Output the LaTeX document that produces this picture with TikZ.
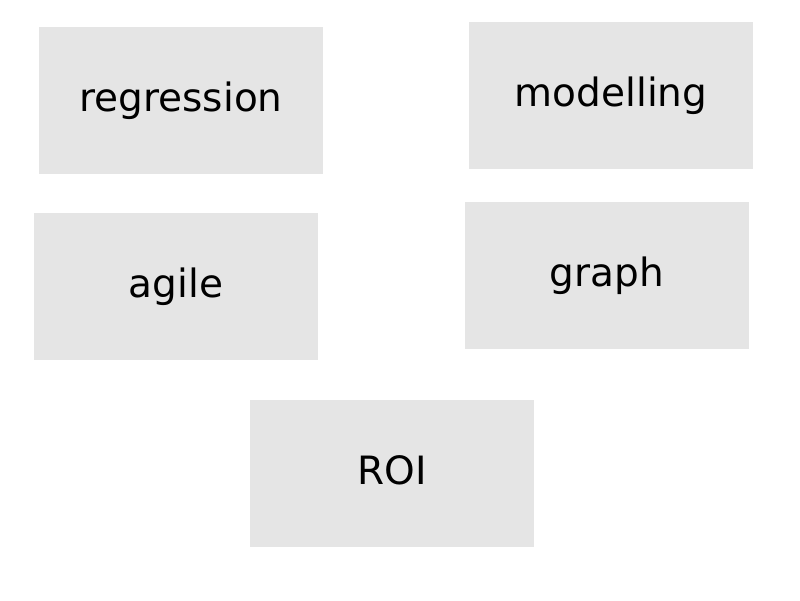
\documentclass[tikz,border=0pt]{standalone}
\usepackage{fontspec}
\setmainfont{DejaVu Sans}
\definecolor{boxgrey}{HTML}{E5E5E5}
\begin{document}
\begin{tikzpicture}[x=1pt,y=-1pt,
  card/.style={fill=boxgrey, draw=none, inner sep=0pt, minimum width=284pt, minimum height=147pt,
    text height=30pt, text depth=8pt, font=\fontsize{39}{44}\selectfont}]
\useasboundingbox (0,0) rectangle (800,600);
\node[card] (regression) at (181,100.5) {regression};
\node[card] (modelling) at (611,95.5) {modelling};
\node[card] (agile) at (176,286.5) {agile};
\node[card] (graph) at (607,275.5) {graph};
\node[card] (roi) at (392,473.5) {ROI};
\end{tikzpicture}
\end{document}
